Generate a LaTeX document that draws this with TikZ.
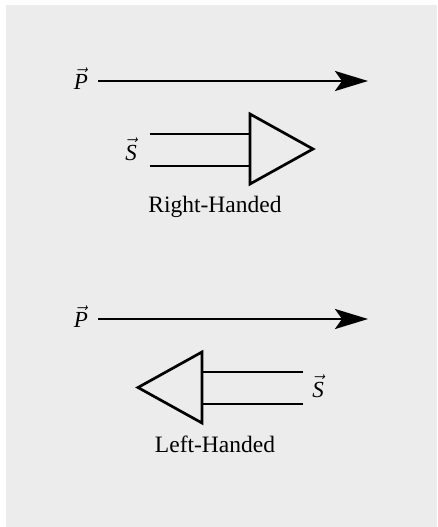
\documentclass[tikz,border=0pt]{standalone}
\usepackage{fontspec}
\setmainfont{Liberation Serif}
\usetikzlibrary{arrows.meta}
\definecolor{bgcol}{HTML}{ECECEC}
\begin{document}
\begin{tikzpicture}[x=1pt,y=-1pt,
  thick line/.style={line width=2.7pt},
  vecarrow/.style={thick line,-{Stealth[length=33pt,width=20pt,inset=7pt]}},
  shape line/.style={thick line,line join=miter},
  mathlabel/.style={inner sep=0pt,anchor=base,font=\fontsize{23}{27}\selectfont},
  caption/.style={inner sep=0pt,anchor=base,font=\fontsize{23.5}{28}\selectfont}]
\useasboundingbox (0,0) rectangle (438,527);
\fill[bgcol] (6,5) rectangle (437,527);
% ---------- Right-handed ----------
\node[mathlabel] (P1) at (81,89.5) {$\vec{\textit{P}}$};
\coordinate (P1s) at (98,81);
\coordinate (P1e) at (368,81);
\draw[vecarrow] (P1s) -- (P1e);
\node[mathlabel] (S1) at (131,160.5) {$\vec{\textit{S}}$};
\coordinate (S1a) at (150,134);
\coordinate (S1b) at (150,166);
\coordinate (T1a) at (250,134);
\coordinate (T1b) at (250,166);
\draw[thick line] (S1a) -- (T1a);
\draw[thick line] (S1b) -- (T1b);
\draw[shape line] (250,114) -- (313,149) -- (250,184) -- cycle;
\node[caption] (RH) at (215,212.5) {Right-Handed};
% ---------- Left-handed ----------
\node[mathlabel] (P2) at (81,327.5) {$\vec{\textit{P}}$};
\coordinate (P2s) at (98,319);
\coordinate (P2e) at (368,319);
\draw[vecarrow] (P2s) -- (P2e);
\node[mathlabel] (S2) at (318,397.5) {$\vec{\textit{S}}$};
\coordinate (S2a) at (303,372);
\coordinate (S2b) at (303,404);
\coordinate (T2a) at (202,372);
\coordinate (T2b) at (202,404);
\draw[thick line] (S2a) -- (T2a);
\draw[thick line] (S2b) -- (T2b);
\draw[shape line] (202,352) -- (138,387.5) -- (202,423) -- cycle;
\node[caption] (LH) at (215,452) {Left-Handed};
\end{tikzpicture}
\end{document}
